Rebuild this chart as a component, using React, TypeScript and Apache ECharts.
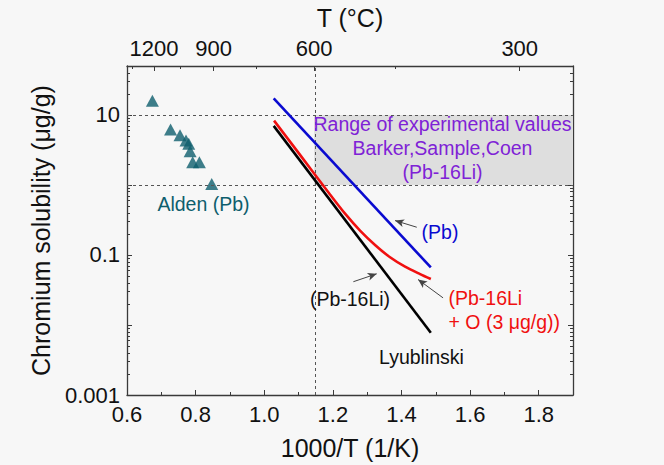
import React, { useEffect, useRef } from "react";
import * as echarts from "echarts";

// 1000/T (1/K) from a temperature in degrees Celsius
const inverseT = (c: number) => 1000 / (c + 273.15);

// Alden (Pb) measurements: 1000/T and solubility (µg/g)
const aldenX = [0.674, 0.727, 0.7545, 0.772, 0.78, 0.784, 0.7915, 0.811, 0.847];
const aldenY = [15.9, 6.19, 5.13, 4.33, 3.89, 3.03, 2.11, 2.11, 1.03];

// Correlations evaluated from 700 °C down to 400 °C
const lineTempsC = [700, 400];
const pbY = [17.2, 0.0664]; // (Pb)
const lyublinskiY = [6.98, 0.00773]; // Lyublinski (Pb-16Li)

// Pb-16Li + O (3 µg/g)
const pbLiOxX = [1.0286, 1.1044, 1.1918, 1.2356, 1.2793, 1.323, 1.3668, 1.4105, 1.4542, 1.4856];
const pbLiOxY = [8.3, 2.69, 0.731, 0.389, 0.223, 0.139, 0.0927, 0.068, 0.0533, 0.0453];

// Experimental range (Barker, Sample, Coen): from 600 °C upward in 1000/T, 1–10 µg/g
const rangeFromC = 600;
const rangeLow = 1;
const rangeHigh = 10;

// Annotation arrows: [tail, head] in (1000/T, µg/g)
const pbArrow = [[1.4446, 0.249], [1.3813, 0.31]];
const oxArrow = [[1.5213, 0.0244], [1.4484, 0.0446]];
const liArrow = [[1.2598, 0.0415], [1.3278, 0.0538]];

// Axis ticks
const bottomMajor = [0.6, 0.8, 1.0, 1.2, 1.4, 1.6, 1.8];
const bottomMinor = [0.7, 0.9, 1.1, 1.3, 1.5, 1.7];
const topMajorC = [1200, 900, 600, 300];
const topMinorC = [1350, 1050, 750, 450];
const yLabelExponents = [-3, -1, 1];

const X_MIN = 0.6;
const X_MAX = 1.9;
const Y_MIN = 0.001;
const Y_MAX = 50;

const FONT = "'Liberation Sans', Arial, sans-serif";
const TEAL = "#0e5e6d";
const BLUE = "#0a0ad0";
const RED = "#f01010";
const PURPLE = "#7f22d6";
const AXIS = "#3a3a3a";

function logMinorTicks(): number[] {
  const out: number[] = [];
  for (let d = -3; d <= 1; d++) {
    for (let k = 2; k <= 9; k++) {
      const v = Math.log10(k) + d;
      if (v <= Math.log10(Y_MAX) + 1e-9) out.push(v);
    }
  }
  return out;
}

function buildOption(): echarts.EChartsOption {
  const axisLine = { show: true, onZero: false, lineStyle: { color: AXIS, width: 1.3 } };
  const noLine = { show: false, onZero: false };
  const tickLabel = { fontFamily: FONT, fontSize: 22, color: "#111" };
  const titleText = { fontFamily: FONT, fontSize: 25, color: "#111" };
  const minorY = logMinorTicks();
  const xVert = inverseT(rangeFromC);
  const dashed = { color: "#555", type: [3, 3] as number[], width: 1 };

  const arrowLine = (pair: number[][]) => [
    { coord: pair[0], symbol: "none" },
    { coord: pair[1], symbol: "arrow", symbolSize: [6, 9] },
  ];

  const text = (
    t: string,
    x: number,
    y: number,
    color: string,
    align: "left" | "center" = "center"
  ) => ({
    type: "text",
    x,
    y,
    style: {
      text: t,
      fill: color,
      font: `19.5px ${FONT}`,
      align,
      verticalAlign: "middle",
    },
    z: 10,
  });

  return {
    animation: false,
    backgroundColor: "#f7f7f7",
    grid: { left: 127, right: 91, top: 65, bottom: 69, containLabel: false },
    xAxis: [
      {
        type: "value",
        position: "bottom",
        min: X_MIN,
        max: X_MAX,
        name: "1000/T (1/K)",
        nameLocation: "middle",
        nameGap: 40,
        nameTextStyle: titleText,
        axisLine,
        axisTick: { show: true, inside: true, length: 5, customValues: bottomMajor, lineStyle: { color: AXIS } },
        axisLabel: { ...tickLabel, margin: 8, customValues: bottomMajor, formatter: (v: number) => v.toFixed(1) },
        splitLine: { show: false },
      },
      {
        type: "value",
        position: "bottom",
        min: X_MIN,
        max: X_MAX,
        axisLine: noLine,
        axisTick: { show: true, inside: true, length: 3, customValues: bottomMinor, lineStyle: { color: AXIS } },
        axisLabel: { show: false },
        splitLine: { show: false },
      },
      {
        type: "value",
        position: "top",
        min: X_MIN,
        max: X_MAX,
        name: "T (°C)",
        nameLocation: "middle",
        nameGap: 36,
        nameTextStyle: titleText,
        axisLine,
        axisTick: { show: true, inside: true, length: 5, customValues: topMajorC.map(inverseT), lineStyle: { color: AXIS } },
        axisLabel: {
          ...tickLabel,
          margin: 7,
          customValues: topMajorC.map(inverseT),
          formatter: (v: number) => String(Math.round((1000 / v - 273.15) / 10) * 10),
        },
        splitLine: { show: false },
      },
      {
        type: "value",
        position: "top",
        min: X_MIN,
        max: X_MAX,
        axisLine: noLine,
        axisTick: { show: true, inside: true, length: 3, customValues: topMinorC.map(inverseT), lineStyle: { color: AXIS } },
        axisLabel: { show: false },
        splitLine: { show: false },
      },
    ],
    yAxis: [
      {
        type: "log",
        logBase: 10,
        position: "left",
        min: Y_MIN,
        max: Y_MAX,
        name: "Chromium solubility (μg/g)",
        nameLocation: "middle",
        nameGap: 74,
        nameTextStyle: titleText,
        axisLine,
        axisTick: { show: true, inside: true, length: 5, lineStyle: { color: AXIS } },
        axisLabel: {
          ...tickLabel,
          margin: 7,
          showMaxLabel: false,
          formatter: (v: number) => {
            const e = Math.round(Math.log10(v));
            if (Math.abs(Math.log10(v) - e) > 1e-6 || !yLabelExponents.includes(e)) return "";
            return e < 0 ? (10 ** e).toFixed(-e) : String(10 ** e);
          },
        },
        splitLine: { show: false },
      },
      {
        type: "value",
        position: "left",
        min: Math.log10(Y_MIN),
        max: Math.log10(Y_MAX),
        axisLine: noLine,
        axisTick: { show: true, inside: true, length: 3, customValues: minorY, lineStyle: { color: AXIS } },
        axisLabel: { show: false },
        splitLine: { show: false },
      },
      {
        type: "log",
        logBase: 10,
        position: "right",
        min: Y_MIN,
        max: Y_MAX,
        axisLine,
        axisTick: { show: true, inside: true, length: 5, lineStyle: { color: AXIS } },
        axisLabel: { show: false },
        splitLine: { show: false },
      },
      {
        type: "value",
        position: "right",
        min: Math.log10(Y_MIN),
        max: Math.log10(Y_MAX),
        axisLine: noLine,
        axisTick: { show: true, inside: true, length: 3, customValues: minorY, lineStyle: { color: AXIS } },
        axisLabel: { show: false },
        splitLine: { show: false },
      },
    ],
    series: [
      {
        name: "Range",
        type: "line",
        data: [],
        silent: true,
        markArea: {
          silent: true,
          itemStyle: { color: "#dedede" },
          data: [[{ xAxis: xVert, yAxis: rangeLow }, { xAxis: X_MAX, yAxis: rangeHigh }]],
        },
        markLine: {
          silent: true,
          symbol: ["none", "none"],
          label: { show: false },
          lineStyle: dashed,
          data: [{ yAxis: rangeHigh }, { yAxis: rangeLow }, { xAxis: xVert }],
        },
      },
      {
        name: "Alden (Pb)",
        type: "scatter",
        symbol: "triangle",
        symbolSize: [13, 12],
        itemStyle: { color: TEAL },
        data: aldenX.map((x, i) => [x, aldenY[i]]),
        z: 4,
      },
      {
        name: "Lyublinski",
        type: "line",
        showSymbol: false,
        lineStyle: { color: "#000", width: 2.6 },
        data: lineTempsC.map((c, i) => [inverseT(c), lyublinskiY[i]]),
        markLine: {
          silent: true,
          label: { show: false },
          lineStyle: { color: "#444", width: 1, type: "solid" },
          data: [arrowLine(liArrow) as any],
        },
        z: 5,
      },
      {
        name: "Pb-16Li + O",
        type: "line",
        showSymbol: false,
        smooth: 0.25,
        lineStyle: { color: RED, width: 2.6 },
        data: pbLiOxX.map((x, i) => [x, pbLiOxY[i]]),
        markLine: {
          silent: true,
          label: { show: false },
          lineStyle: { color: "#444", width: 1, type: "solid" },
          data: [arrowLine(oxArrow) as any],
        },
        z: 6,
      },
      {
        name: "Pb",
        type: "line",
        showSymbol: false,
        lineStyle: { color: BLUE, width: 2.6 },
        data: lineTempsC.map((c, i) => [inverseT(c), pbY[i]]),
        markLine: {
          silent: true,
          label: { show: false },
          lineStyle: { color: "#444", width: 1, type: "solid" },
          data: [arrowLine(pbArrow) as any],
        },
        z: 7,
      },
    ],
    graphic: [
      text("Range of experimental values", 442.5, 123.5, PURPLE),
      text("Barker,Sample,Coen", 442.5, 148, PURPLE),
      text("(Pb-16Li)", 442.5, 172, PURPLE),
      text("Alden (Pb)", 203.5, 203.5, TEAL),
      text("(Pb)", 440, 232, BLUE),
      text("(Pb-16Li", 448.5, 297.5, RED, "left"),
      text("+ O (3 μg/g))", 448.5, 322, RED, "left"),
      text("(Pb-16Li)", 350, 298.5, "#111"),
      text("Lyublinski", 421.5, 357, "#111"),
    ] as any,
  };
}

export default function App() {
  const ref = useRef<HTMLDivElement>(null);
  useEffect(() => {
    if (!ref.current) return;
    const chart = echarts.init(ref.current, null, { renderer: "svg" });
    chart.setOption(buildOption());
    return () => chart.dispose();
  }, []);
  return (
    <div
      ref={ref}
      style={{ position: "fixed", left: 0, top: 0, width: 664, height: 465 }}
    />
  );
}
